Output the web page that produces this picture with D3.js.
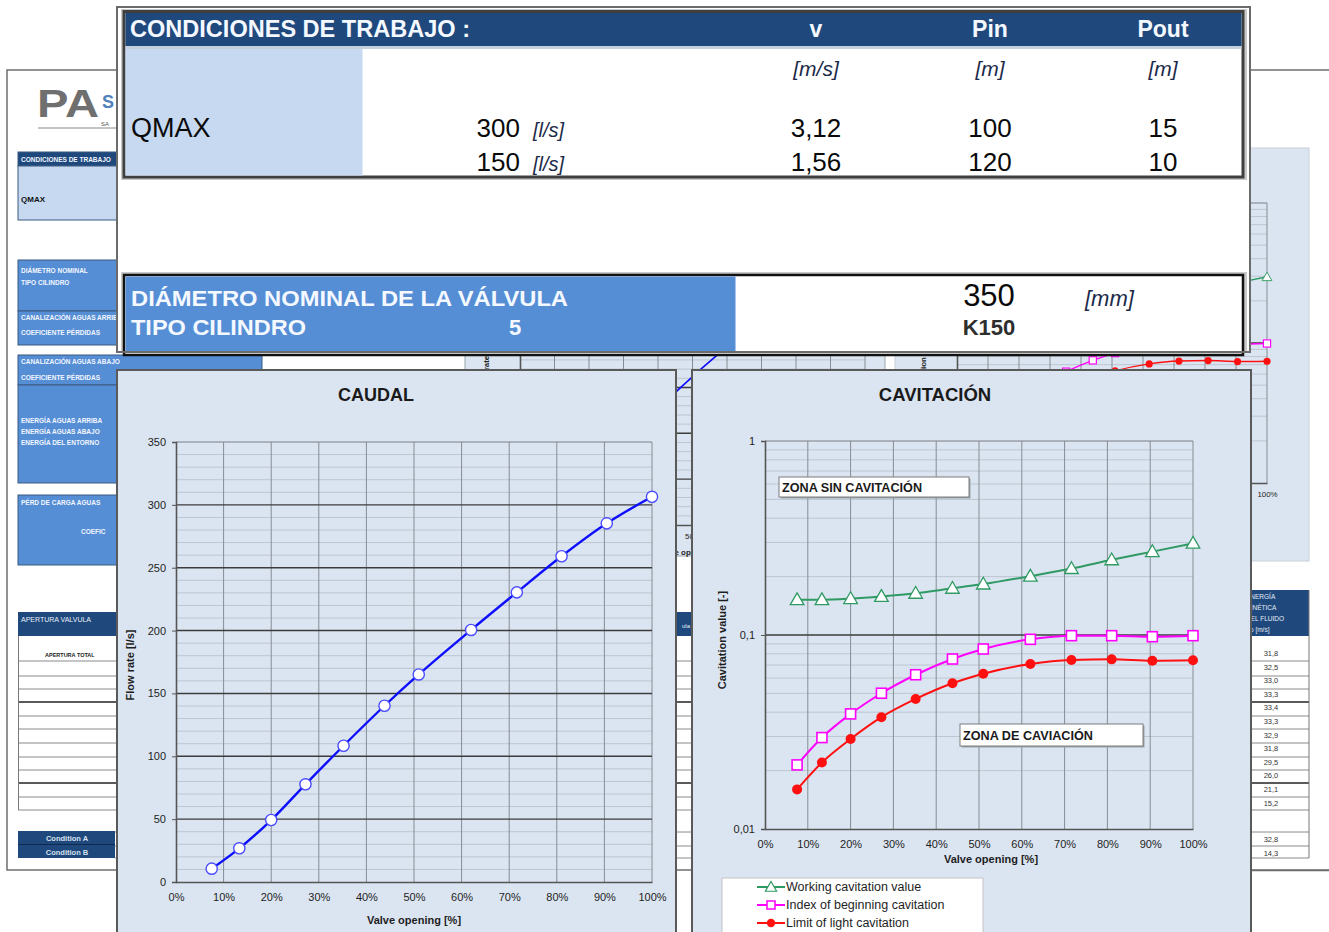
<!DOCTYPE html>
<html><head><meta charset="utf-8">
<script src="https://cdn.jsdelivr.net/npm/d3@7"></script>
<style>
body{margin:0;background:#fff}
svg{display:block}
text{font-family:"Liberation Sans",Arial,Helvetica,sans-serif}
</style>
</head><body>
<svg id="c" width="1329" height="932"></svg>
<script>
// ---------------- DATA ----------------
const openingPct = [7.5, 13.3, 20.0, 27.2, 35.2, 43.8, 51.0, 62.0, 71.6, 81.0, 90.5, 100];
const flowRate = [10.6, 26.8, 49.3, 77.7, 108.4, 140.2, 165.1, 200.5, 230.4, 259.1, 285.3, 306.4];
const workingCavitation = [0.152, 0.152, 0.154, 0.158, 0.164, 0.174, 0.183, 0.201, 0.220, 0.244, 0.269, 0.297];
const beginningCavitation = [0.0214, 0.0296, 0.0392, 0.0501, 0.0624, 0.0752, 0.0847, 0.0950, 0.0992, 0.0992, 0.0980, 0.0992];
const lightCavitation = [0.0160, 0.0220, 0.0291, 0.0377, 0.0468, 0.0564, 0.0632, 0.0709, 0.0743, 0.0749, 0.0737, 0.0741];

const openingTicks = [0, 10, 20, 30, 40, 50, 60, 70, 80, 90, 100];
const flowTicks = [0, 50, 100, 150, 200, 250, 300, 350];
const cavTicks = [0.01, 0.1, 1];
const cavTickLabels = ["0,01", "0,1", "1"];
const legendLabels = ["Working cavitation value", "Index of beginning cavitation", "Limit of light cavitation"];

// working conditions table
const conditionFlow = [300, 150];
const conditionVelocity = ["3,12", "1,56"];
const conditionPin = [100, 120];
const conditionPout = [15, 10];
const conditionHeaders = ["v", "Pin", "Pout"];
const conditionUnits = ["[m/s]", "[m]", "[m]"];

// background sheet: kinetic energy column
const kineticEnergy = ["31,8", "32,5", "33,0", "33,3", "33,4", "33,3", "32,9", "31,8", "29,5", "26,0", "21,1", "15,2"];
const kineticConditions = ["32,8", "14,3"];

// ---------------- DRAW ----------------
const svg = d3.select("#c");
const FONT = '"Liberation Sans",Arial,sans-serif';
const PANEL = "#dbe5f1";
const BLUE = "#0f0fff", GREEN = "#2f9a63", MAGENTA = "#ff00ff", RED = "#ff1010";

function txt(g, x, y, s, o = {}) {
  const t = g.append("text").attr("x", x).attr("y", y).text(s)
    .attr("font-size", o.size || 10)
    .attr("font-weight", o.weight || "normal")
    .attr("font-style", o.style || "normal")
    .attr("fill", o.fill || "#111")
    .attr("text-anchor", o.anchor || "start");
  if (o.len) t.attr("textLength", o.len).attr("lengthAdjust", "spacingAndGlyphs");
  return t;
}

// ===== Background page =====
const bg = svg.append("g");
bg.append("rect").attr("x", 7).attr("y", 70).attr("width", 1340).attr("height", 800)
  .attr("fill", "#fff").attr("stroke", "#6d6d6d").attr("stroke-width", 1.5);
txt(bg, 37, 117, "PA", {size: 38, weight: "bold", fill: "#6f6f6f", len: 62});
txt(bg, 102, 108, "S", {size: 18, weight: "bold", fill: "#4f81bd"});
bg.append("line").attr("x1", 38).attr("x2", 117).attr("y1", 128).attr("y2", 128).attr("stroke", "#888");
txt(bg, 101, 126, "SA", {size: 6, fill: "#555"});
const blocks = [
  {y: 152, h: 14, fill: "#1f497d", lines: [["CONDICIONES DE TRABAJO", 162]]},
  {y: 166, h: 54, fill: "#c6d9f1", lines: [["QMAX", 202]], dark: true},
  {y: 260, h: 51, fill: "#558ed5", lines: [["DIÁMETRO NOMINAL", 273], ["TIPO CILINDRO", 285]]},
  {y: 311, h: 34, fill: "#558ed5", lines: [["CANALIZACIÓN AGUAS ARRIBA", 320], ["COEFICIENTE PÉRDIDAS", 335]]},
  {y: 355, h: 30, fill: "#558ed5", w: 244, lines: [["CANALIZACIÓN AGUAS ABAJO", 364], ["COEFICIENTE PÉRDIDAS", 380]]},
  {y: 385, h: 98, fill: "#558ed5", lines: [["ENERGÍA AGUAS ARRIBA", 423], ["ENERGÍA AGUAS ABAJO", 434], ["ENERGÍA DEL ENTORNO", 445]]},
  {y: 495, h: 70, fill: "#558ed5", lines: [["PÉRD DE CARGA AGUAS", 505]]}
];
blocks.forEach(b => {
  bg.append("rect").attr("x", 18).attr("y", b.y).attr("width", b.w || 110).attr("height", b.h)
    .attr("fill", b.fill).attr("stroke", "#3a5a80").attr("stroke-width", 1);
  b.lines.forEach(l => txt(bg, 21, l[1], l[0], {size: b.dark ? 8 : 6.5, weight: "bold", fill: b.dark ? "#111" : "#f2f6ff"}));
});
txt(bg, 81, 534, "COEFIC", {size: 6.5, weight: "bold", fill: "#f2f6ff"});

bg.append("rect").attr("x", 18).attr("y", 612).attr("width", 1230).attr("height", 24).attr("fill", "#1f497d");
txt(bg, 21, 622, "APERTURA VALVULA", {size: 7, fill: "#e8eef8"});
txt(bg, 682, 628, "ula", {size: 6, fill: "#e8eef8"});
txt(bg, 45, 657, "APERTURA TOTAL", {size: 5.5, weight: "bold", fill: "#222"});
const rowLines = [661, 676, 689, 702, 716, 729, 743, 757, 770, 783, 797, 810];
bg.append("g").selectAll("line").data(rowLines).join("line")
  .attr("x1", 18).attr("x2", 1309).attr("y1", d => d).attr("y2", d => d)
  .attr("stroke", (d, i) => (i === 3 || i === 9) ? "#222" : "#8a8a8a").attr("stroke-width", (d, i) => (i === 3 || i === 9) ? 1.4 : 1);
bg.append("line").attr("x1", 18.5).attr("x2", 18.5).attr("y1", 636).attr("y2", 810).attr("stroke", "#777");
bg.append("rect").attr("x", 18).attr("y", 831).attr("width", 97).attr("height", 27).attr("fill", "#1f497d");
bg.append("line").attr("x1", 18).attr("x2", 115).attr("y1", 844.5).attr("y2", 844.5).attr("stroke", "#0d2a50");
txt(bg, 67, 841, "Condition A", {size: 7.5, weight: "bold", fill: "#d8e2f0", anchor: "middle"});
txt(bg, 67, 855, "Condition B", {size: 7.5, weight: "bold", fill: "#d8e2f0", anchor: "middle"});
[832, 846, 858].forEach(y => bg.append("line").attr("x1", 115).attr("x2", 1309).attr("y1", y).attr("y2", y).attr("stroke", "#8a8a8a"));

bg.append("rect").attr("x", 1236).attr("y", 590).attr("width", 73).attr("height", 46).attr("fill", "#1f497d");
["ENERGÍA", "CINÉTICA", "DEL FLUIDO", "Vo [m/s]"].forEach((s, i) =>
  txt(bg, 1246, 599 + i * 11, s, {size: 6.5, fill: "#e6edf7"}));
bg.append("line").attr("x1", 1309).attr("x2", 1309).attr("y1", 590).attr("y2", 858).attr("stroke", "#777");
kineticEnergy.forEach((v, i) => txt(bg, 1271, 656 + i * 13.6, v, {size: 7.5, fill: "#333", anchor: "middle"}));
kineticConditions.forEach((v, i) => txt(bg, 1271, 842 + i * 14, v, {size: 7.5, fill: "#333", anchor: "middle"}));
bg.append("line").attr("x1", 1250).attr("x2", 1329).attr("y1", 870.5).attr("y2", 870.5).attr("stroke", "#6d6d6d").attr("stroke-width", 1.5);

// ===== Chart builders =====
function caudalChart(g, o) {
  const k = o.k;
  g.append("rect").attr("x", o.px).attr("y", o.py).attr("width", o.pw).attr("height", o.ph)
    .attr("fill", PANEL).attr("stroke", o.stroke).attr("stroke-width", o.sw);
  const x = d3.scaleLinear().domain([0, 100]).range([o.x0, o.x1]);
  const y = d3.scaleLinear().domain([0, 350]).range([o.y1, o.y0]);
  const minor = d3.range(10, 350, 10).filter(v => v % 50 !== 0);
  g.append("g").selectAll("line").data(minor).join("line")
    .attr("x1", o.x0).attr("x2", o.x1).attr("y1", d => y(d)).attr("y2", d => y(d))
    .attr("stroke", "#bcc5d0").attr("stroke-width", 1);
  g.append("g").selectAll("line").data(openingTicks.slice(1)).join("line")
    .attr("x1", d => x(d)).attr("x2", d => x(d)).attr("y1", o.y0).attr("y2", o.y1)
    .attr("stroke", "#868c94").attr("stroke-width", 1);
  g.append("g").selectAll("line").data(flowTicks.slice(1, -1)).join("line")
    .attr("x1", o.x0).attr("x2", o.x1).attr("y1", d => y(d)).attr("y2", d => y(d))
    .attr("stroke", "#3c3c3c").attr("stroke-width", 1.4);
  g.append("line").attr("x1", o.x0).attr("x2", o.x1).attr("y1", o.y0).attr("y2", o.y0).attr("stroke", "#7a7f86");
  const ay = g.append("g").attr("transform", `translate(${o.x0},0)`)
    .call(d3.axisLeft(y).tickValues(flowTicks).tickSize(4 * k).tickPadding(6 * k).tickFormat(d3.format("d")));
  const ax = g.append("g").attr("transform", `translate(0,${o.y1})`)
    .call(d3.axisBottom(x).tickValues(openingTicks).tickSize(0).tickPadding(11 * k).tickFormat(d => d + "%"));
  [ay, ax].forEach(a => {
    a.select(".domain").attr("stroke", "#555").attr("stroke-width", 1.6);
    a.selectAll(".tick line").attr("stroke", "#555");
    a.selectAll("text").attr("font-size", 11 * k).attr("fill", "#1e1e1e").attr("font-family", FONT);
  });
  txt(g, o.tx, o.ty, "CAUDAL", {size: 18 * k, weight: "bold", anchor: "middle", fill: "#1a1a1a"});
  txt(g, (o.x0 + o.x1) / 2, o.y1 + 42 * k, "Valve opening [%]", {size: 11 * k, weight: "bold", anchor: "middle", fill: "#1e1e1e"});
  g.append("text").attr("transform", `translate(${o.ylx},${o.yly}) rotate(-90)`)
    .attr("text-anchor", "middle").attr("font-size", 11 * k).attr("font-weight", "bold").attr("fill", "#1e1e1e")
    .text("Flow rate  [l/s]");
  const line = d3.line().x((d, i) => x(openingPct[i])).y(d => y(d)).curve(d3.curveMonotoneX);
  g.append("path").datum(flowRate).attr("d", line).attr("fill", "none").attr("stroke", BLUE).attr("stroke-width", 2.4 * k);
  g.append("g").selectAll("circle").data(flowRate).join("circle")
    .attr("cx", (d, i) => x(openingPct[i])).attr("cy", d => y(d)).attr("r", 5.6 * k)
    .attr("fill", "#fff").attr("stroke", "#4b4bff").attr("stroke-width", 1.4 * k);
}

function cavitationChart(g, o) {
  const k = o.k;
  g.append("rect").attr("x", o.px).attr("y", o.py).attr("width", o.pw).attr("height", o.ph)
    .attr("fill", PANEL).attr("stroke", o.stroke).attr("stroke-width", o.sw);
  const x = d3.scaleLinear().domain([0, 100]).range([o.x0, o.x1]);
  const y = d3.scaleLog().domain([0.01, 1]).range([o.y1, o.y0]);
  const minor = [];
  [0.01, 0.1].forEach(dec => { for (let m = 2; m <= 9; m++) minor.push(dec * m); });
  g.append("g").selectAll("line").data(minor).join("line")
    .attr("x1", o.x0).attr("x2", o.x1).attr("y1", d => y(d)).attr("y2", d => y(d))
    .attr("stroke", "#bcc5d0").attr("stroke-width", 1);
  g.append("g").selectAll("line").data(openingTicks.slice(1)).join("line")
    .attr("x1", d => x(d)).attr("x2", d => x(d)).attr("y1", o.y0).attr("y2", o.y1)
    .attr("stroke", "#868c94").attr("stroke-width", 1);
  g.append("line").attr("x1", o.x0).attr("x2", o.x1).attr("y1", y(0.1)).attr("y2", y(0.1)).attr("stroke", "#3c3c3c").attr("stroke-width", 1.4);
  g.append("line").attr("x1", o.x0).attr("x2", o.x1).attr("y1", o.y0).attr("y2", o.y0).attr("stroke", "#7a7f86");
  const ay = g.append("g").attr("transform", `translate(${o.x0},0)`)
    .call(d3.axisLeft(y).tickValues(cavTicks).tickSize(4 * k).tickPadding(6 * k).tickFormat((d, i) => cavTickLabels[i]));
  const ax = g.append("g").attr("transform", `translate(0,${o.y1})`)
    .call(d3.axisBottom(x).tickValues(openingTicks).tickSize(0).tickPadding(11 * k).tickFormat(d => d + "%"));
  [ay, ax].forEach(a => {
    a.select(".domain").attr("stroke", "#555").attr("stroke-width", 1.6);
    a.selectAll(".tick line").attr("stroke", "#555");
    a.selectAll("text").attr("font-size", 11 * k).attr("fill", "#1e1e1e").attr("font-family", FONT);
  });
  if (o.tx) txt(g, o.tx, o.ty, "CAVITACIÓN", {size: 18.5 * k, weight: "bold", anchor: "middle", fill: "#1a1a1a"});
  txt(g, o.xlx, o.y1 + 34 * k, "Valve opening [%]", {size: 11 * k, weight: "bold", anchor: "middle", fill: "#1e1e1e"});
  g.append("text").attr("transform", `translate(${o.ylx},${o.yly}) rotate(-90)`)
    .attr("text-anchor", "middle").attr("font-size", 11 * k).attr("font-weight", "bold").attr("fill", "#1e1e1e")
    .text("Cavitation value [-]");
  const mk = (arr) => d3.line().x((d, i) => x(openingPct[i])).y(d => y(d)).curve(d3.curveMonotoneX)(arr);
  g.append("path").attr("d", mk(lightCavitation)).attr("fill", "none").attr("stroke", RED).attr("stroke-width", 2 * k);
  g.append("g").selectAll("circle").data(lightCavitation).join("circle")
    .attr("cx", (d, i) => x(openingPct[i])).attr("cy", d => y(d)).attr("r", 5 * k).attr("fill", RED);
  g.append("path").attr("d", mk(beginningCavitation)).attr("fill", "none").attr("stroke", MAGENTA).attr("stroke-width", 2 * k);
  g.append("g").selectAll("rect").data(beginningCavitation).join("rect")
    .attr("x", (d, i) => x(openingPct[i]) - 5 * k).attr("y", d => y(d) - 5 * k)
    .attr("width", 10 * k).attr("height", 10 * k).attr("fill", "#fff").attr("stroke", MAGENTA).attr("stroke-width", 1.6 * k);
  g.append("path").attr("d", mk(workingCavitation)).attr("fill", "none").attr("stroke", GREEN).attr("stroke-width", 2 * k);
  const tri = d3.symbol(d3.symbolTriangle, 80 * k * k);
  g.append("g").selectAll("path").data(workingCavitation).join("path")
    .attr("d", tri).attr("transform", (d, i) => `translate(${x(openingPct[i])},${y(d) + 1})`)
    .attr("fill", "#fff").attr("stroke", GREEN).attr("stroke-width", 1.3 * k);
}

// ===== Background (partially hidden) charts =====
const bgCharts = svg.append("g");
caudalChart(bgCharts.append("g"), {k: 0.72, px: 465, py: 148, pw: 420, ph: 408, stroke: "#9aa3ad", sw: 1,
  x0: 520, x1: 865, y0: 204, y1: 525, tx: 692, ty: 180, ylx: 489, yly: 365});
cavitationChart(bgCharts.append("g"), {k: 0.72, px: 895, py: 148, pw: 414, ph: 413, stroke: "#c8d0da", sw: 1,
  x0: 957, x1: 1267, y0: 203, y1: 483, tx: 1112, ty: 180, xlx: 1112, ylx: 926, yly: 360});

// ===== Top sheet =====
const sheet = svg.append("g");
sheet.append("rect").attr("x", 117).attr("y", 7).attr("width", 1133).attr("height", 345)
  .attr("fill", "#fff").attr("stroke", "#6b6b6b").attr("stroke-width", 2);
sheet.append("rect").attr("x", 121).attr("y", 9).attr("width", 1126).attr("height", 171).attr("fill", "#c9c9c9");
sheet.append("rect").attr("x", 124).attr("y", 11.5).attr("width", 1119).attr("height", 165.5)
  .attr("fill", "#fff").attr("stroke", "#3f3f3f").attr("stroke-width", 3);
sheet.append("rect").attr("x", 125.5).attr("y", 13).attr("width", 1116).attr("height", 33).attr("fill", "#1f497d");
sheet.append("rect").attr("x", 125.5).attr("y", 46).attr("width", 1116).attr("height", 3).attr("fill", "#c5d0de");
sheet.append("rect").attr("x", 125.5).attr("y", 49).attr("width", 237).attr("height", 126.5).attr("fill", "#c6d9f1");
txt(sheet, 130, 37, "CONDICIONES DE TRABAJO :", {size: 23, weight: "bold", fill: "#f4f8ff", len: 340});
const colX = [816, 990, 1163];
conditionHeaders.forEach((h, i) => txt(sheet, colX[i], 37, h, {size: 23, weight: "bold", fill: "#f4f8ff", anchor: "middle"}));
conditionUnits.forEach((u, i) => txt(sheet, colX[i], 76, u, {size: 21, style: "italic", fill: "#1c2a4a", anchor: "middle"}));
txt(sheet, 131, 137, "QMAX", {size: 27, fill: "#0a0a0a"});
const rowY = [137, 171];
conditionFlow.forEach((q, i) => {
  txt(sheet, 520, rowY[i], q, {size: 26, fill: "#0a0a0a", anchor: "end"});
  txt(sheet, 533, rowY[i], "[l/s]", {size: 20, style: "italic", fill: "#1c2a4a"});
  txt(sheet, colX[0], rowY[i], conditionVelocity[i], {size: 26, fill: "#0a0a0a", anchor: "middle"});
  txt(sheet, colX[1], rowY[i], conditionPin[i], {size: 26, fill: "#0a0a0a", anchor: "middle"});
  txt(sheet, colX[2], rowY[i], conditionPout[i], {size: 26, fill: "#0a0a0a", anchor: "middle"});
});
sheet.append("rect").attr("x", 121).attr("y", 272).attr("width", 1126).attr("height", 80).attr("fill", "#c9c9c9");
sheet.append("rect").attr("x", 124).attr("y", 275).attr("width", 1119).attr("height", 80)
  .attr("fill", "#fff").attr("stroke", "#111").attr("stroke-width", 2.5);
sheet.append("rect").attr("x", 125.5).attr("y", 276.5).attr("width", 610).attr("height", 75).attr("fill", "#558ed5");
txt(sheet, 131, 306, "DIÁMETRO NOMINAL DE LA VÁLVULA", {size: 22, weight: "bold", fill: "#f4f8ff", len: 437});
txt(sheet, 131, 335, "TIPO CILINDRO", {size: 22, weight: "bold", fill: "#f4f8ff", len: 175});
txt(sheet, 515, 335, "5", {size: 22, weight: "bold", fill: "#f4f8ff", anchor: "middle"});
txt(sheet, 989, 306, "350", {size: 31, fill: "#0a0a0a", anchor: "middle"});
txt(sheet, 1085, 306, "[mm]", {size: 22, style: "italic", fill: "#1c2a4a"});
txt(sheet, 989, 335, "K150", {size: 22, weight: "bold", fill: "#2e2e2e", anchor: "middle"});
sheet.append("rect").attr("x", 116).attr("y", 351).attr("width", 1135).attr("height", 2).attr("fill", "#6b6b6b");

// ===== Main charts =====
caudalChart(svg.append("g"), {k: 1, px: 117, py: 370, pw: 559, ph: 600, stroke: "#5a5a5a", sw: 2,
  x0: 176, x1: 652, y0: 442, y1: 882, tx: 376, ty: 401, ylx: 134, yly: 665});

const cav = svg.append("g");
cavitationChart(cav, {k: 1, px: 692, py: 370, pw: 559, ph: 600, stroke: "#5a5a5a", sw: 2,
  x0: 765, x1: 1193, y0: 441, y1: 829, tx: 935, ty: 401, xlx: 991, ylx: 726, yly: 640});

function zoneBox(x, y, w, h, s, len) {
  cav.append("rect").attr("x", x + 1.5).attr("y", y + 1.5).attr("width", w).attr("height", h).attr("fill", "#9aa3ad");
  cav.append("rect").attr("x", x).attr("y", y).attr("width", w).attr("height", h)
    .attr("fill", "#fff").attr("stroke", "#7d7d7d").attr("stroke-width", 1);
  txt(cav, x + 3, y + h / 2 + 4.5, s, {size: 12.5, weight: "bold", fill: "#1a1a1a", len: len});
}
zoneBox(779, 477, 190, 20, "ZONA  SIN CAVITACIÓN", 140);
zoneBox(960, 724, 183, 22, "ZONA DE CAVIACIÓN", 130);

const lg = cav.append("g");
lg.append("rect").attr("x", 722).attr("y", 878).attr("width", 261).attr("height", 80)
  .attr("fill", "#fff").attr("stroke", "#c4c4c4");
const legColors = [GREEN, MAGENTA, RED];
const legY = [887, 905, 923];
legendLabels.forEach((l, i) => {
  lg.append("line").attr("x1", 757).attr("x2", 785).attr("y1", legY[i]).attr("y2", legY[i])
    .attr("stroke", legColors[i]).attr("stroke-width", 2);
  txt(lg, 786, legY[i] + 4, l, {size: 12.5, fill: "#1e1e1e"});
});
lg.append("path").attr("d", d3.symbol(d3.symbolTriangle, 55)()).attr("transform", `translate(771,${legY[0] + 1})`)
  .attr("fill", "#fff").attr("stroke", GREEN).attr("stroke-width", 1.2);
lg.append("rect").attr("x", 767).attr("y", legY[1] - 4).attr("width", 8).attr("height", 8)
  .attr("fill", "#fff").attr("stroke", MAGENTA).attr("stroke-width", 1.5);
lg.append("circle").attr("cx", 771).attr("cy", legY[2]).attr("r", 4.2).attr("fill", RED);

// ===== Remove background texts that are fully covered by the front sheets =====
const covers = [
  {x1: 117, y1: 7, x2: 1251, y2: 353},
  {x1: 117, y1: 370, x2: 677, y2: 932},
  {x1: 692, y1: 370, x2: 1252, y2: 932}
];
const svgBox = document.getElementById("c").getBoundingClientRect();
[bg, bgCharts].forEach(layer => {
  layer.selectAll("text").each(function () {
    const r = this.getBoundingClientRect();
    const x1 = r.left - svgBox.left, y1 = r.top - svgBox.top, x2 = x1 + r.width, y2 = y1 + r.height;
    const hidden = covers.some(c => x1 >= c.x1 - 1 && x2 <= c.x2 + 1 && y1 >= c.y1 - 1 && y2 <= c.y2 + 1);
    if (hidden) d3.select(this).remove();
  });
});
</script>
</body></html>
